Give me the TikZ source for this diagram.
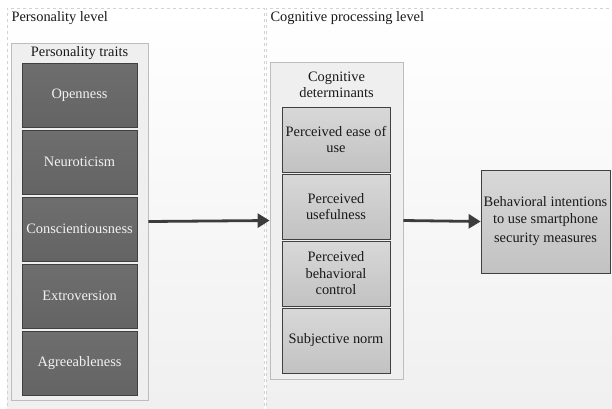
\documentclass[tikz,border=0pt]{standalone}
\usepackage{fontspec}
\setmainfont{Liberation Serif}
\usetikzlibrary{arrows.meta,shapes,calc,backgrounds}
\usepackage{xcolor}
\definecolor{lanegray}{HTML}{D2D2D2}
\definecolor{boxgray}{HTML}{EFEFEF}
\definecolor{boxedge}{HTML}{BDBDBD}
\definecolor{darkfill}{HTML}{6E6E6E}
\definecolor{darkfillb}{HTML}{646464}
\definecolor{lightfill}{HTML}{D8D8D8}
\definecolor{lightfillb}{HTML}{C2C2C2}
\definecolor{arrowgray}{HTML}{3C3C3C}

\tikzset{
  txt/.style={font=\fontsize{14.4}{16.5}\selectfont, text=black!90},
  groupbox/.style={draw=boxedge, line width=0.8pt, fill=boxgray, inner sep=0pt},
  traitbox/.style={txt, draw=black!75, line width=0.7pt, top color=darkfill, bottom color=darkfillb,
    text=white!95!black, minimum width=115pt, minimum height=64pt, inner sep=1pt},
  factorbox/.style={txt, draw=black!75, line width=0.7pt, top color=lightfill, bottom color=lightfillb,
    align=center, minimum width=108pt, minimum height=65pt, inner sep=1pt},
  flow/.style={draw=arrowgray, line width=2.8pt, -{Triangle[length=12pt,width=14pt]}}
}

\begin{document}
\begin{tikzpicture}[x=1pt,y=-1pt]

\useasboundingbox (0,0) rectangle (612,408);
\fill[white] (0,0) rectangle (612,408);

% the two levels
\shade[top color=white, bottom color=black!6] (7,8) rectangle (264,412);
\shade[top color=white, bottom color=black!6] (266,8) rectangle (616,412);
\draw[lanegray, dashed, line width=0.6pt] (7,412) -- (7,8) -- (264,8) -- (264,412);
\draw[lanegray, dashed, line width=0.6pt] (266,412) -- (266,8) -- (616,8);

\node[txt, anchor=west] (perslevel) at (8,18) {Personality level};
\node[txt, anchor=west] (coglevel) at (267,18) {Cognitive processing level};

% personality traits
\node[groupbox, minimum width=137pt, minimum height=357pt] (traits) at (79.5,221.5) {};
\node[txt] (traitstitle) at (79.5,53) {Personality traits};

\node[traitbox] (open) at (79.5,95) {Openness};
\node[traitbox] (neuro) at (79.5,162) {Neuroticism};
\node[traitbox] (consc) at (79.5,229) {Conscientiousness};
\node[traitbox] (extro) at (79.5,296) {Extroversion};
\node[traitbox] (agree) at (79.5,363) {Agreeableness};

% cognitive determinants
\node[groupbox, minimum width=133pt, minimum height=317pt] (cogdet) at (336.5,220.5) {};
\node[txt, align=center] (cogtitle) at (336.5,85) {Cognitive\\determinants};

\node[factorbox] (ease) at (336,139.5) {Perceived ease of\\use};
\node[factorbox] (useful) at (336,206.5) {Perceived\\usefulness};
\node[factorbox] (pbc) at (336,273.5) {Perceived\\behavioral\\control};
\node[factorbox] (norm) at (336,340.5) {Subjective norm};

% outcome
\node[factorbox, minimum width=129pt, minimum height=103pt, align=center] (intent) at (545.5,221.5)
{Behavioral intentions\\to use smartphone\\[3pt]security measures};

\draw[flow] (traits.east) -- (cogdet.west);
\draw[flow] (cogdet.east) -- (intent.west);

\end{tikzpicture}
\end{document}
